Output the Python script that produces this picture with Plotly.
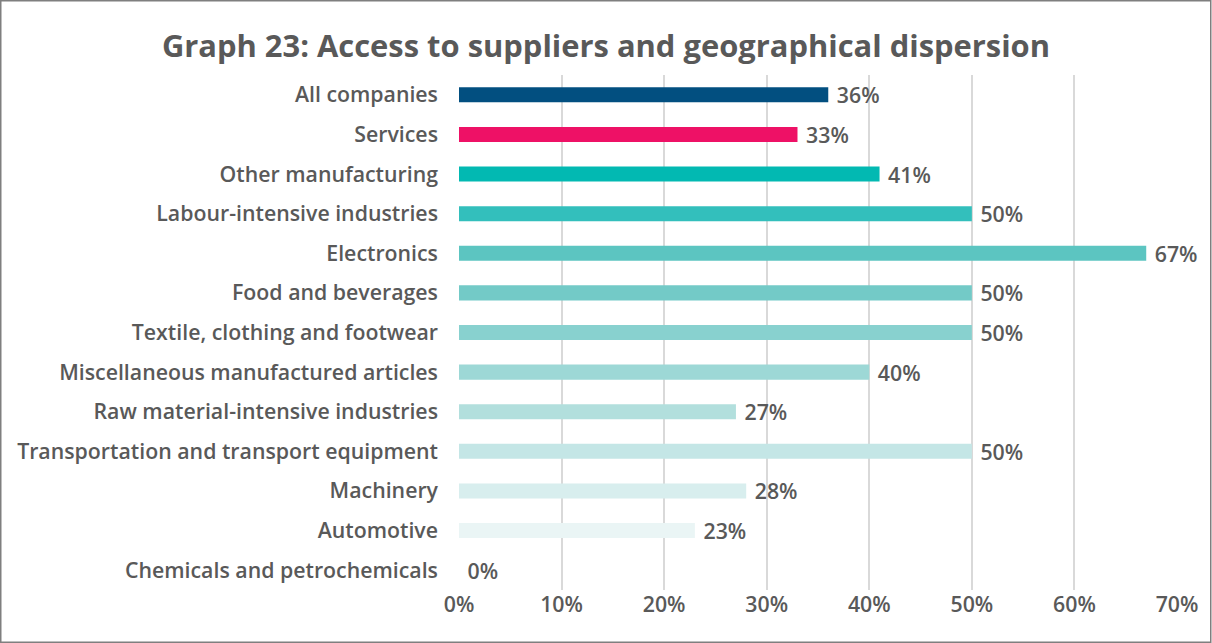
import plotly.graph_objects as go

categories = [
    "All companies",
    "Services",
    "Other manufacturing",
    "Labour-intensive industries",
    "Electronics",
    "Food and beverages",
    "Textile, clothing and footwear",
    "Miscellaneous manufactured articles",
    "Raw material-intensive industries",
    "Transportation and transport equipment",
    "Machinery",
    "Automotive",
    "Chemicals and petrochemicals",
]
values = [36, 33, 41, 50, 67, 50, 50, 40, 27, 50, 28, 23, 0]
colors = [
    "#024F80", "#EE1166", "#02B9B2", "#33BFBC", "#5CC5C1", "#73CAC7",
    "#88D1CF", "#9DD8D6", "#B2DFDD", "#C4E6E6", "#D8EEEE", "#EAF5F5", "#F2F9F9",
]
x_ticks = [0, 10, 20, 30, 40, 50, 60, 70]
x_ticklabels = [f"{t}%" for t in x_ticks]

W, H = 1212, 643
ml, mr, mt, mb = 459, 35, 75, 53
pw, ph = W - ml - mr, H - mt - mb

FS = 21.3

fig = go.Figure(go.Bar(
    x=values,
    y=categories,
    orientation="h",
    marker=dict(color=colors, line=dict(width=0)),
    width=0.38,
    text=[f" {v}%" for v in values],
    textposition="outside",
    constraintext="none",
    cliponaxis=False,
    textfont=dict(family="Open Sans", size=FS, color="#595959", weight=600),
))

def px_x(p):
    return (p - ml) / pw

def px_y(p):
    return 1 - (p - mt) / ph

fig.update_layout(
    width=W, height=H,
    margin=dict(l=ml, r=mr, t=mt, b=mb, autoexpand=False),
    paper_bgcolor="white",
    plot_bgcolor="white",
    showlegend=False,
    title=dict(
        text="<b>Graph 23: Access to suppliers and geographical dispersion</b>",
        x=0.5, xanchor="center", y=1 - 46 / H, yanchor="middle",
        font=dict(family="Open Sans", size=30.9, color="#595959"),
    ),
    xaxis=dict(
        range=[0, 70],
        tickvals=x_ticks,
        ticktext=x_ticklabels,
        showgrid=True, gridcolor="#D9D9D9", gridwidth=1.5,
        zeroline=False,
        showline=False,
        automargin=False,
        tickfont=dict(family="Open Sans", size=FS, color="#595959", weight=600),
    ),
    yaxis=dict(
        categoryorder="array",
        categoryarray=categories[::-1],
        autorange=False,
        range=[-0.5, len(categories) - 0.5],
        showgrid=False,
        zeroline=False,
        showline=False,
        ticks="",
        automargin=False,
        ticklabelstandoff=20,
        tickfont=dict(family="Open Sans", size=FS, color="#595959", weight=600),
    ),
    font=dict(family="Open Sans", color="#595959"),
    shapes=[
        dict(type="rect", xref="paper", yref="paper",
             x0=px_x(0.75), x1=px_x(W - 1.25), y0=px_y(H - 0.75), y1=px_y(0.75),
             line=dict(color="#7F7F7F", width=1.5), fillcolor="rgba(0,0,0,0)",
             layer="above"),
    ],
)

fig.write_html("out.html", config={"displayModeBar": False},
               post_script="document.body.style.margin='0';")
